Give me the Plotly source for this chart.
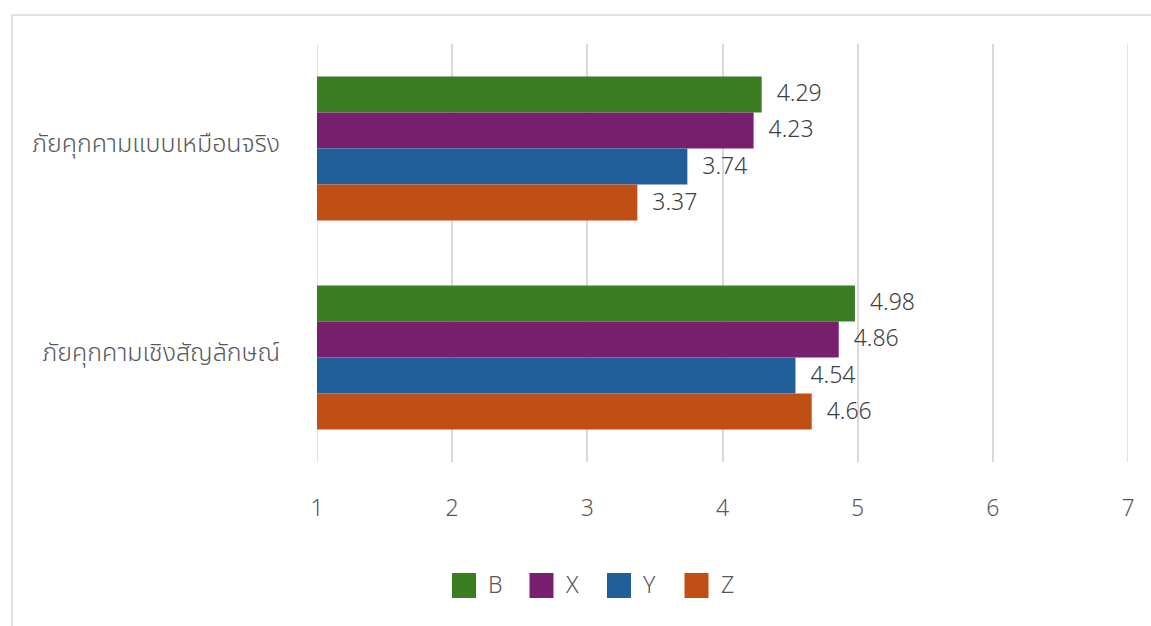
import plotly.graph_objects as go

categories = ["ภัยคุกคามแบบเหมือนจริง", "ภัยคุกคามเชิงสัญลักษณ์"]
series_names = ["B", "X", "Y", "Z"]
values_B = [4.29, 4.98]
values_X = [4.23, 4.86]
values_Y = [3.74, 4.54]
values_Z = [3.37, 4.66]
colors = ["#3B7D23", "#78206E", "#215F9A", "#C04F15"]
x_ticks = [1, 2, 3, 4, 5, 6, 7]

FONT = "'Noto Sans Thai', 'Open Sans', 'Noto Sans', sans-serif"
GRID = "#d9d9d9"
W, H = 1151, 626
L, R, T, B = 317, 23, 44, 164
PW, PH = W - L - R, H - T - B

fig = go.Figure()
for name, vals, col in zip(series_names, [values_B, values_X, values_Y, values_Z], colors):
    fig.add_trace(go.Bar(
        y=categories, x=vals, name=name, orientation="h",
        marker=dict(color=col, line=dict(width=0)),
        text=[f"{v:.2f}" for v in vals],
        texttemplate="  %{text}",
        textposition="outside",
        textfont=dict(size=23, color="#404040", family=FONT, weight=300),
        cliponaxis=False,
        showlegend=False,
    ))

shapes = [dict(type="rect", xref="paper", yref="paper",
               x0=(12 - L) / PW, x1=1.3, y0=-0.6, y1=(H - B - 15) / PH,
               line=dict(color=GRID, width=1.5), layer="below")]
# gridlines at the range ends (Plotly omits them at the edges)
for t in (x_ticks[0], x_ticks[-1]):
    shapes.append(dict(type="line", xref="x", yref="paper", x0=t, x1=t, y0=0, y1=1,
                       line=dict(color=GRID, width=1.5), layer="below"))

# custom legend (larger square swatches like the original)
annotations = []
leg_y_px = 585.5
sw_w, sw_h = 24, 25
pitch = 77.5
start_px = 452
for i, (name, col) in enumerate(zip(series_names, colors)):
    x0px = start_px + i * pitch
    shapes.append(dict(type="rect", xref="paper", yref="paper",
                       x0=(x0px - L) / PW, x1=(x0px + sw_w - L) / PW,
                       y0=(H - B - (leg_y_px + sw_h / 2)) / PH,
                       y1=(H - B - (leg_y_px - sw_h / 2)) / PH,
                       fillcolor=col, line=dict(width=0)))
    annotations.append(dict(xref="paper", yref="paper",
                            x=(x0px + sw_w + 10 - L) / PW, y=(H - B - leg_y_px) / PH,
                            xanchor="left", yanchor="middle", showarrow=False,
                            text=name, font=dict(size=23, color="#595959", family=FONT, weight=300)))

fig.update_layout(
    width=W, height=H,
    barmode="group", bargap=0.31, bargroupgap=0,
    plot_bgcolor="white", paper_bgcolor="white",
    margin=dict(l=L, r=R, t=T, b=B),
    font=dict(family=FONT, color="#595959"),
    showlegend=False,
    xaxis=dict(range=[1, 7], tickvals=x_ticks, showgrid=True, gridcolor=GRID, gridwidth=1.5,
               zeroline=False, showline=False,
               tickfont=dict(size=23, color="#595959", family=FONT, weight=300),
               ticklabelstandoff=30),
    yaxis=dict(autorange="reversed", showgrid=False, showline=False, zeroline=False,
               tickfont=dict(size=25, color="#595959", family=FONT, weight=300),
               ticklabelstandoff=36, ticklabelshift=5),
    shapes=shapes,
    annotations=annotations,
)

fig.write_html("out.html", config={"displayModeBar": False},
               post_script="document.body.style.margin='0px';")
